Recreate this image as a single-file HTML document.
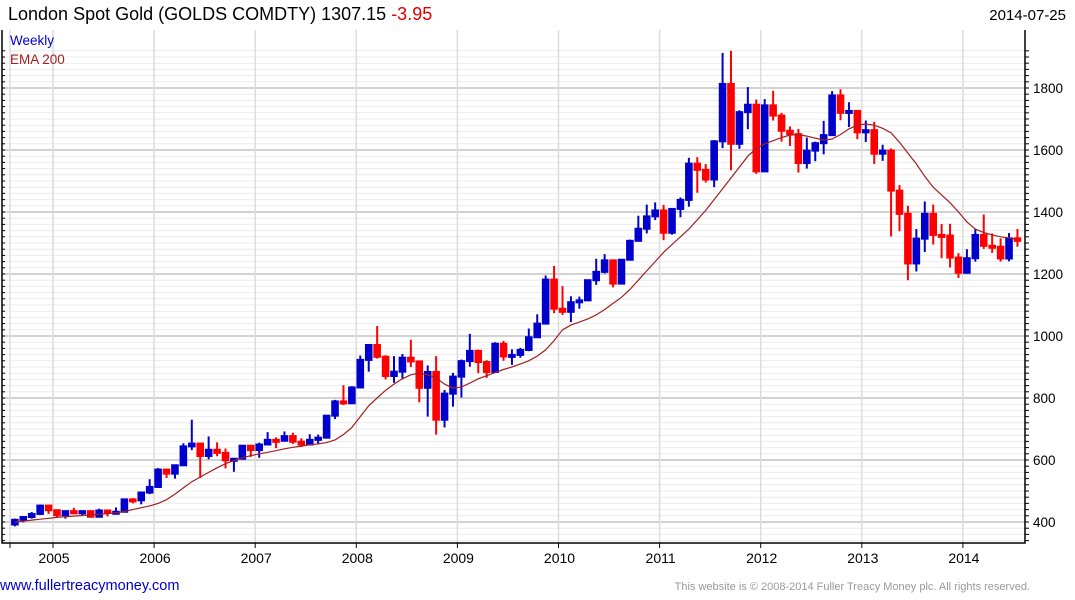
<!DOCTYPE html>
<html><head><meta charset="utf-8">
<style>
body{margin:0;background:#fff;width:1075px;height:600px;overflow:hidden;font-family:"Liberation Sans",sans-serif;}
svg{position:absolute;left:0;top:0}
</style></head>
<body>
<svg id="chart" width="1075" height="600">
<g id="grid"></g>
<g id="marks"></g>
<g id="axes"></g>
<text x="8" y="20" font-size="18" fill="#000">London Spot Gold (GOLDS COMDTY) 1307.15 <tspan fill="#e00000">-3.95</tspan></text>
<text x="1066" y="20" font-size="15" text-anchor="end" fill="#000">2014-07-25</text>
<text x="10" y="45" font-size="13.5" fill="#0000cc">Weekly</text>
<text x="10" y="64" font-size="13.5" fill="#a02020">EMA 200</text>
<text x="0" y="590" font-size="14.5" fill="#0000cc">www.fullertreacymoney.com</text>
<text x="1030" y="590" font-size="11" text-anchor="end" fill="#999">This website is © 2008-2014 Fuller Treacy Money plc. All rights reserved.</text>
</svg>
<script>
const startYear = 2004 + 7/12;
const firstOpen = 392;
const closes = [407,416,426,453,438,
422,435,428,435,417,437,429,433,473,470,495,513,
569,556,583,644,653,613,633,623,599,604,646,632,
650,665,662,677,659,650,665,672,743,789,783,834,
923,971,933,871,885,930,918,833,884,730,814,869,
919,952,916,884,975,934,939,955,996,1040,1182,1088,
1078,1109,1115,1180,1207,1244,1169,1246,1307,1346,1386,1405,
1333,1410,1439,1556,1536,1505,1628,1813,1620,1722,1746,1531,
1744,1711,1662,1651,1558,1598,1622,1648,1776,1720,1726,1657,
1664,1588,1598,1469,1394,1234,1314,1394,1326,1324,1253,1204,
1251,1326,1291,1288,1250,1315,1307];
const highs = [411,419,432,456,456,
428,437,446,437,433,443,430,447,475,477,497,538,
574,572,585,654,730,633,676,657,637,605,648,644,
656,690,673,692,688,670,683,682,745,794,841,838,
937,971,1032,938,935,942,988,920,905,935,826,881,
924,1007,956,922,980,984,957,962,1024,1070,1195,1226,
1161,1128,1127,1180,1249,1264,1208,1248,1311,1388,1424,1431,
1423,1411,1447,1575,1577,1555,1632,1913,1920,1728,1803,1763,
1764,1791,1720,1676,1668,1640,1627,1694,1790,1796,1754,1723,
1695,1691,1617,1605,1487,1420,1345,1434,1424,1361,1362,1267,
1280,1345,1392,1331,1315,1332,1345];
const lows = [386,399,411,423,426,
414,411,425,422,414,415,418,425,433,460,457,490,
513,542,540,583,632,542,602,612,573,562,602,610,
607,649,638,665,652,642,647,652,671,732,777,784,
831,885,927,860,849,862,900,786,740,682,705,772,
802,901,880,865,882,920,907,930,951,1003,1044,1074,
1068,1045,1088,1115,1165,1202,1157,1176,1244,1310,1331,1374,
1309,1327,1383,1417,1462,1495,1480,1606,1535,1604,1667,1523,
1535,1695,1627,1613,1527,1540,1564,1586,1687,1696,1674,1635,
1626,1555,1565,1321,1338,1180,1208,1271,1295,1251,1221,1187,
1201,1240,1281,1268,1240,1241,1288];
const ema = [400,403,406,409,412,415,417,419,421,423,425,427,
430,434,440,446,452,460,472,490,510,530,545,560,
575,588,598,607,614,620,625,630,636,641,645,649,
652,656,665,682,705,740,775,800,825,845,862,875,
880,875,865,845,832,835,848,862,872,882,892,900,
910,920,935,955,985,1020,1035,1045,1055,1068,1085,1105,
1125,1150,1180,1210,1240,1270,1295,1320,1345,1375,1405,1440,
1475,1510,1545,1580,1605,1620,1630,1640,1648,1650,1645,1638,
1632,1635,1650,1668,1680,1684,1680,1670,1655,1625,1590,1555,
1515,1480,1455,1430,1400,1368,1345,1334,1326,1320,1316,1312];
const yTicks = [400,600,800,1000,1200,1400,1600,1800];
const years = [2005,2006,2007,2008,2009,2010,2011,2012,2013,2014];

const NS="http://www.w3.org/2000/svg";
const L=2,R=1025,T=30,B=543;
function xT(t){return 53+(t-2005)*101.1;}
function xI(i){return xT(startYear+i/12)+4;}
function yP(p){return 522-(p-400)*0.31;}
function mk(tag,attrs,parent){const e=document.createElementNS(NS,tag);for(const k in attrs)e.setAttribute(k,attrs[k]);parent.appendChild(e);return e;}
const grid=document.getElementById('grid'),marks=document.getElementById('marks'),axes=document.getElementById('axes');
for(let p=340;p<=1920;p+=20){const y=yP(p);if(y<T||y>B)continue;
 const major=p%200===0;
 const g=mk('line',{x1:L,x2:R,y1:y,y2:y,stroke:major?'#c4c4c4':'#ebebeb','stroke-width':major?1.5:1},grid);
 
 
 const tk=mk('line',{x1:R,x2:R+4,y1:y,y2:y,stroke:'#000'},axes);
 
 
 const tl=mk('line',{x1:L,x2:L+3,y1:y,y2:y,stroke:'#000'},axes);
 
 
}
const g0=mk('line',{x1:10,x2:10,y1:T,y2:B,stroke:'#ddd','stroke-width':1.5},grid);


years.forEach(yr=>{const x=xT(yr);
 const g=mk('line',{x1:x,x2:x,y1:T,y2:B,stroke:'#dcdcdc','stroke-width':1.5},grid);
 
 
 const tk=mk('line',{x1:x,x2:x,y1:B,y2:B+5,stroke:'#000'},axes);
 
 
 const t=mk('text',{x:x+1,y:563,'font-size':14,'text-anchor':'middle',fill:'#000'},axes);
 t.textContent=yr;
 
 
});
yTicks.forEach(v=>{const t=mk('text',{x:1033,y:yP(v)+5,'font-size':13.5,fill:'#000'},axes);
 t.textContent=v;
 
 
});
const t0=mk('line',{x1:10,x2:10,y1:B,y2:B+5,stroke:'#000'},axes);


const frame=mk('path',{d:`M${L},${T} V${B} H${R} V${T}`,fill:'none',stroke:'#000','stroke-width':1.5},axes);


closes.forEach((c,i)=>{
 const o=i===0?firstOpen:closes[i-1];
 const col=c>=o?'#0000cc':'#ff0000';
 const x=xI(i);
 const w=mk('line',{x1:x,x2:x,y1:yP(highs[i]),y2:yP(lows[i]),stroke:col,'stroke-width':2},marks);
 
 
 const yt=yP(Math.max(o,c)),yb=yP(Math.min(o,c));
 const r=mk('rect',{x:x-3.8,y:yt-1,width:7.6,height:Math.max(4,yb-yt+2),fill:col},marks);
 
 
});
const pts=ema.map((v,i)=>xI(i).toFixed(1)+','+yP(v).toFixed(1)).join(' ');
const pl=mk('polyline',{points:pts,fill:'none',stroke:'#a02020','stroke-width':1.2},marks);


</script>
</body></html>
